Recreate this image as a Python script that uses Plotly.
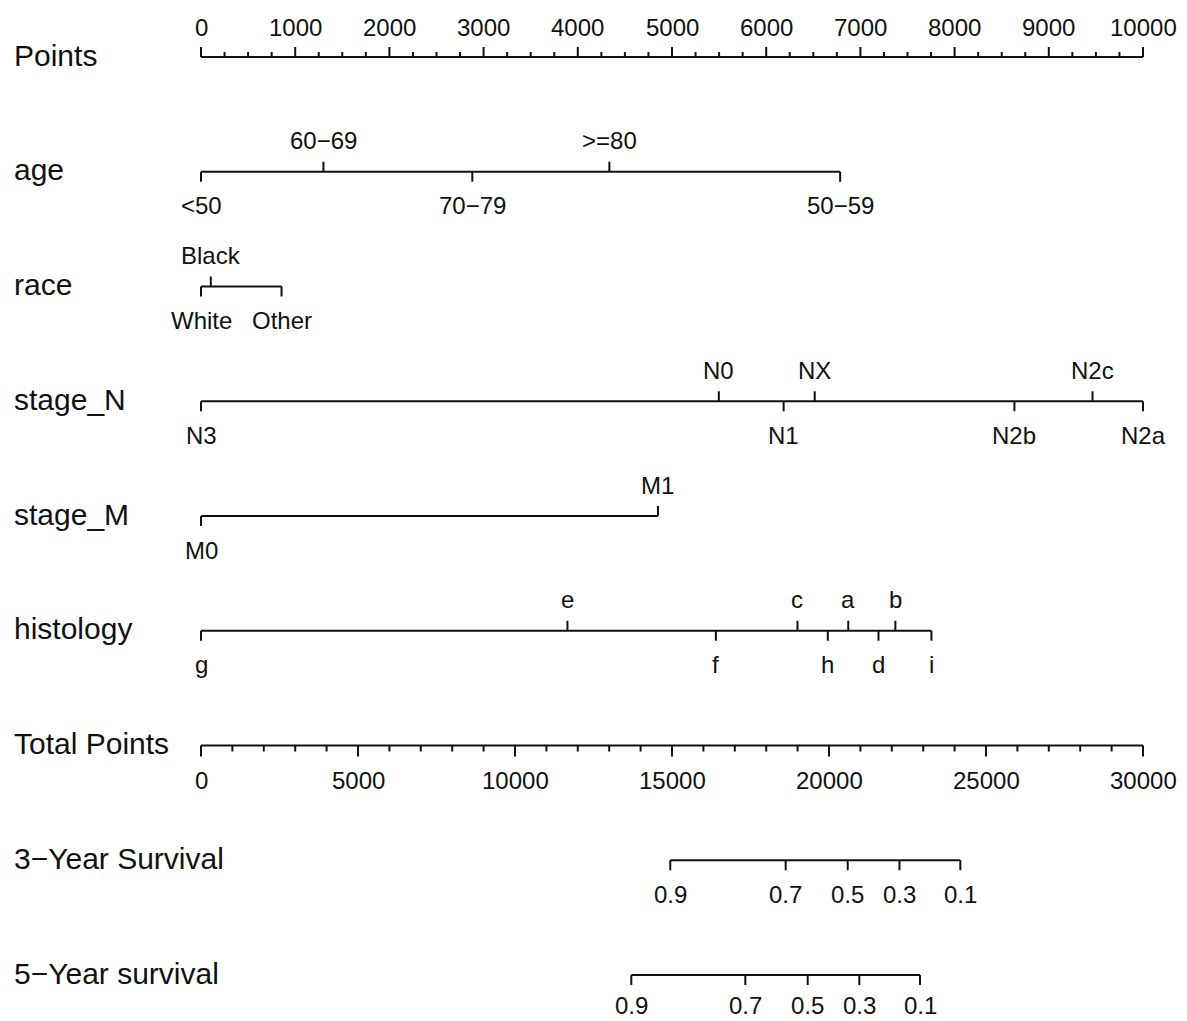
import plotly.graph_objects as go

# ---------------- data ----------------
row_names = ["Points", "age", "race", "stage_N", "stage_M", "histology",
             "Total Points", "3\u2212Year Survival", "5\u2212Year survival"]

points_major = list(range(0, 10001, 1000))
points_minor = list(range(0, 10001, 250))

age_levels = ["<50", "60\u221269", "70\u221279", ">=80", "50\u221259"]
age_points = [0, 1300, 2880, 4335, 6785]

race_levels = ["White", "Black", "Other"]
race_points = [0, 104, 855]

stageN_levels = ["N3", "N0", "N1", "NX", "N2b", "N2c", "N2a"]
stageN_points = [0, 5497, 6185, 6515, 8635, 9464, 10000]

stageM_levels = ["M0", "M1"]
stageM_points = [0, 4851]

hist_levels = ["g", "e", "f", "c", "h", "a", "d", "b", "i"]
hist_points = [0, 3890, 5466, 6332, 6654, 6871, 7192, 7371, 7754]

total_major = list(range(0, 30001, 5000))
total_minor = list(range(0, 30001, 1000))

surv_labels = ["0.9", "0.7", "0.5", "0.3", "0.1"]
surv3_total = [14946, 18620, 20596, 22245, 24182]
surv5_total = [13704, 17335, 19321, 20965, 22898]

# labels drawn above the line (the rest below)
above = {
    "age": {"60\u221269", ">=80"},
    "race": {"Black"},
    "stage_N": {"N0", "NX", "N2c"},
    "stage_M": {"M1"},
    "histology": {"e", "c", "a", "b"},
}

# ---------------- geometry / style ----------------
W, H = 1187, 1021
X0, X1 = 201.0, 1143.0          # pixel position of 0 and 10000 points
PXS = (X1 - X0) / 10000.0
ROW0, ROWSTEP = 57.0, 114.75     # pixel y of first row and spacing
TOTAL_SCALE = 10000.0 / 30000.0  # total points -> points axis scale

def dy(px):
    return px / ROWSTEP

LINE = dict(color="#111111", width=2)
FONT = "Liberation Sans, Arial, Helvetica, sans-serif"
TICK_FS = 24
ROW_FS = 30

fig = go.Figure()
ann = []

def add_segments(xs, ys):
    fig.add_trace(go.Scatter(x=xs, y=ys, mode="lines", line=LINE,
                             hoverinfo="skip", showlegend=False))

def axis_row(r, xs_vals, xs_labels, major_len, minor_vals=None, minor_len=0,
             up=True, label_shift=31):
    lo, hi = min(xs_vals + (minor_vals or [])), max(xs_vals + (minor_vals or []))
    xs, ys = [lo, hi, None], [r, r, None]
    sgn = -1 if up else 1
    for v in xs_vals:
        xs += [v, v, None]
        ys += [r, r + sgn * dy(major_len), None]
    for v in (minor_vals or []):
        if v in xs_vals:
            continue
        xs += [v, v, None]
        ys += [r, r + sgn * dy(minor_len), None]
    add_segments(xs, ys)
    for v, t in zip(xs_vals, xs_labels):
        ann.append(dict(x=v, y=r, xref="x", yref="y", text=t, showarrow=False,
                        xanchor="center", yanchor="middle",
                        yshift=label_shift if up else -label_shift,
                        font=dict(family=FONT, size=TICK_FS, color="#111111")))

def cat_row(r, name, levels, pts):
    xs, ys = [min(pts), max(pts), None], [r, r, None]
    for lv, p in zip(levels, pts):
        is_up = lv in above.get(name, set())
        xs += [p, p, None]
        ys += [r, r + (-dy(10) if is_up else dy(10)), None]
        ann.append(dict(x=p, y=r, xref="x", yref="y", text=lv, showarrow=False,
                        xanchor="center", yanchor="middle",
                        yshift=31 if is_up else -34,
                        font=dict(family=FONT, size=TICK_FS, color="#111111")))
    add_segments(xs, ys)

# Row 0: Points
axis_row(0, points_major, [str(v) for v in points_major], 10,
         points_minor, 5, up=True, label_shift=30)

# Categorical rows
cat_row(1, "age", age_levels, age_points)
cat_row(2, "race", race_levels, race_points)
cat_row(3, "stage_N", stageN_levels, stageN_points)
cat_row(4, "stage_M", stageM_levels, stageM_points)
cat_row(5, "histology", hist_levels, hist_points)

# Row 6: Total points
axis_row(6, [v * TOTAL_SCALE for v in total_major], [str(v) for v in total_major], 11,
         [v * TOTAL_SCALE for v in total_minor], 6, up=False, label_shift=35)

# Rows 7, 8: survival
axis_row(7, [v * TOTAL_SCALE for v in surv3_total], surv_labels, 10, up=False, label_shift=34)
axis_row(8, [v * TOTAL_SCALE for v in surv5_total], surv_labels, 10, up=False, label_shift=30)

# Row names
for i, nm in enumerate(row_names):
    ann.append(dict(x=12 / W, y=i, xref="paper", yref="y", text=nm, showarrow=False,
                    xanchor="left", yanchor="middle", yshift=2,
                    font=dict(family=FONT, size=ROW_FS, color="#111111")))

fig.update_layout(
    width=W, height=H,
    margin=dict(l=0, r=0, t=0, b=0),
    paper_bgcolor="white", plot_bgcolor="white",
    showlegend=False,
    annotations=ann,
    xaxis=dict(range=[-X0 / PXS, (W - X0) / PXS], visible=False, fixedrange=True),
    yaxis=dict(range=[(H - ROW0) / ROWSTEP, -ROW0 / ROWSTEP], visible=False, fixedrange=True),
)

fig.write_html("out.html")
